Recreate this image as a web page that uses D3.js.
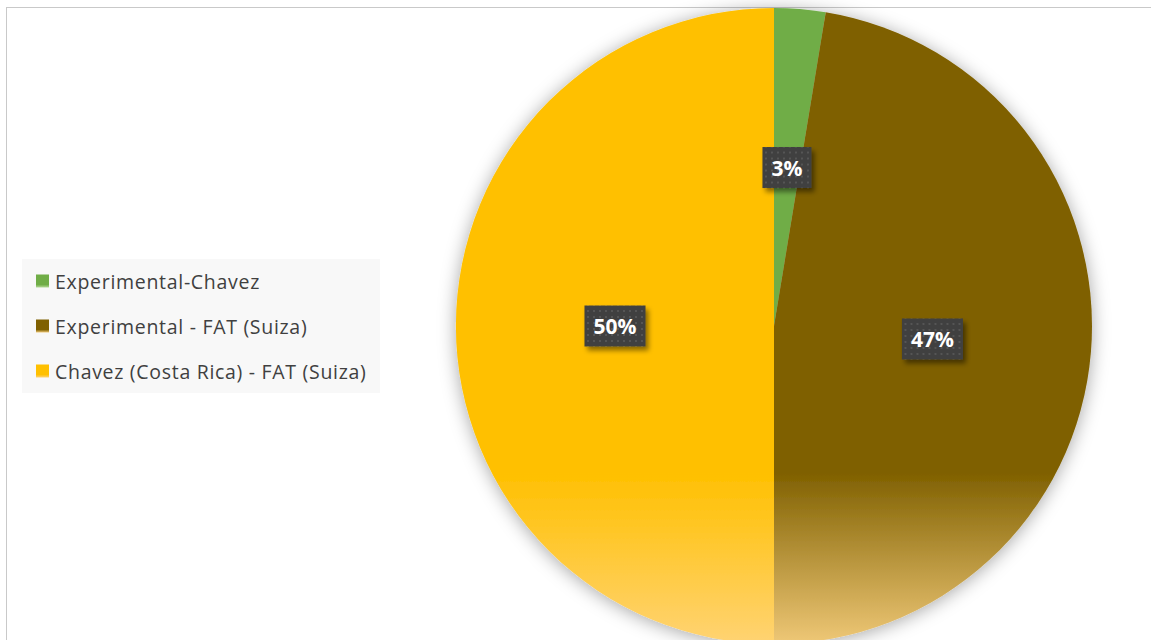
<!DOCTYPE html>
<html>
<head>
<meta charset="utf-8">
<script src="https://cdn.jsdelivr.net/npm/d3@7"></script>
<style>
  html, body { margin: 0; padding: 0; background: #ffffff; }
  svg { display: block; }
</style>
</head>
<body>
<svg id="chart" width="1151" height="640"></svg>
<script>
// Series shown in the pie
const categories = ["Experimental-Chavez", "Experimental - FAT (Suiza)", "Chavez (Costa Rica) - FAT (Suiza)"];
const values = [2.6, 47.4, 50.0];
const baseColors = ["#70AD47", "#7F6000", "#FFC000"];
const lightColors = ["#B5DA98", "#EFC877", "#FFD373"];

const width = 1151, height = 640;
const cx = 774, cy = 326, radius = 318;

const svg = d3.select("#chart");
const defs = svg.append("defs");

// Soft outer shadow under the pie
const pieShadow = defs.append("filter").attr("id", "pieShadow")
  .attr("x", "-20%").attr("y", "-20%").attr("width", "140%").attr("height", "140%");
pieShadow.append("feDropShadow")
  .attr("dx", 0).attr("dy", 2).attr("stdDeviation", 9)
  .attr("flood-color", "#000").attr("flood-opacity", 0.35);

// Shadow for the data label boxes
const labelShadow = defs.append("filter").attr("id", "labelShadow")
  .attr("x", "-30%").attr("y", "-30%").attr("width", "170%").attr("height", "170%");
labelShadow.append("feDropShadow")
  .attr("dx", 3).attr("dy", 4).attr("stdDeviation", 2.5)
  .attr("flood-color", "#000").attr("flood-opacity", 0.45);

// Dotted texture used on the label boxes
const pat = defs.append("pattern").attr("id", "dots")
  .attr("patternUnits", "userSpaceOnUse").attr("width", 6).attr("height", 6);
pat.append("rect").attr("width", 6).attr("height", 6).attr("fill", "#3f3f3f");
pat.append("rect").attr("x", 2).attr("y", 2).attr("width", 2).attr("height", 2).attr("fill", "#555555");

// Vertical gradient per slice (pie-group coordinates): solid, fading lighter near the bottom
baseColors.forEach((c, i) => {
  const g = defs.append("linearGradient").attr("id", "grad" + i)
    .attr("gradientUnits", "userSpaceOnUse")
    .attr("x1", 0).attr("x2", 0).attr("y1", -radius).attr("y2", radius);
  g.append("stop").attr("offset", 0).attr("stop-color", c);
  g.append("stop").attr("offset", 0.73).attr("stop-color", c);
  g.append("stop").attr("offset", 1).attr("stop-color", lightColors[i]);
});

// Legend swatch gradients (solid with a lighter bottom edge)
baseColors.forEach((c, i) => {
  const g = defs.append("linearGradient").attr("id", "swatch" + i)
    .attr("x1", 0).attr("x2", 0).attr("y1", 0).attr("y2", 1);
  g.append("stop").attr("offset", 0).attr("stop-color", c);
  g.append("stop").attr("offset", 0.78).attr("stop-color", c);
  g.append("stop").attr("offset", 1).attr("stop-color", lightColors[i]);
});

// Chart frame
svg.append("rect")
  .attr("x", 6.5).attr("y", 7.5)
  .attr("width", width + 20).attr("height", height + 20)
  .attr("fill", "#ffffff").attr("stroke", "#c9c9c9").attr("stroke-width", 1);

// Pie
const pie = d3.pie().sort(null).value(d => d.value);
const data = categories.map((name, i) => ({ name, value: values[i], i }));
const arcs = pie(data);
const total = d3.sum(values);
const arc = d3.arc().innerRadius(0).outerRadius(radius);

const pieG = svg.append("g").attr("transform", `translate(${cx},${cy})`);
pieG.append("g").attr("filter", "url(#pieShadow)")
  .selectAll("path")
  .data(arcs)
  .join("path")
  .attr("d", arc)
  .attr("fill", d => `url(#grad${d.data.i})`);

// Data labels at the slice centroids
const fmt = d3.format(".0%");
const labelG = pieG.append("g");
arcs.forEach(d => {
  const [lx, ly] = arc.centroid(d);
  const g = labelG.append("g").attr("transform", `translate(${lx},${ly})`);
  const box = g.append("rect").attr("fill", "url(#dots)").attr("filter", "url(#labelShadow)");
  const t = g.append("text")
    .attr("text-anchor", "middle")
    .attr("dominant-baseline", "central")
    .attr("font-family", "'Open Sans', sans-serif")
    .attr("font-weight", 700)
    .attr("font-size", 21)
    .attr("fill", "#ffffff")
    .text(fmt(d.data.value / total));
  const bb = t.node().getBBox();
  const w = bb.width + 18, h = 41;
  box.attr("x", -w / 2).attr("y", -h / 2).attr("width", w).attr("height", h);
});

// Legend
const legend = svg.append("g");
legend.append("rect")
  .attr("x", 22).attr("y", 259).attr("width", 358).attr("height", 134)
  .attr("fill", "#f8f8f8");
const rowY = d3.scalePoint().domain(categories).range([281, 371]);
const items = legend.selectAll("g.item")
  .data(categories)
  .join("g")
  .attr("class", "item")
  .attr("transform", d => `translate(0,${rowY(d)})`);
items.append("rect")
  .attr("x", 36).attr("y", -6.5).attr("width", 13).attr("height", 13)
  .attr("fill", (d, i) => `url(#swatch${i})`);
items.append("text")
  .attr("x", 55).attr("y", 0)
  .attr("dominant-baseline", "central")
  .attr("font-family", "'Open Sans', sans-serif")
  .attr("font-size", 19.5)
  .attr("letter-spacing", 0.7)
  .attr("fill", "#404040")
  .text(d => d);
</script>
</body>
</html>
